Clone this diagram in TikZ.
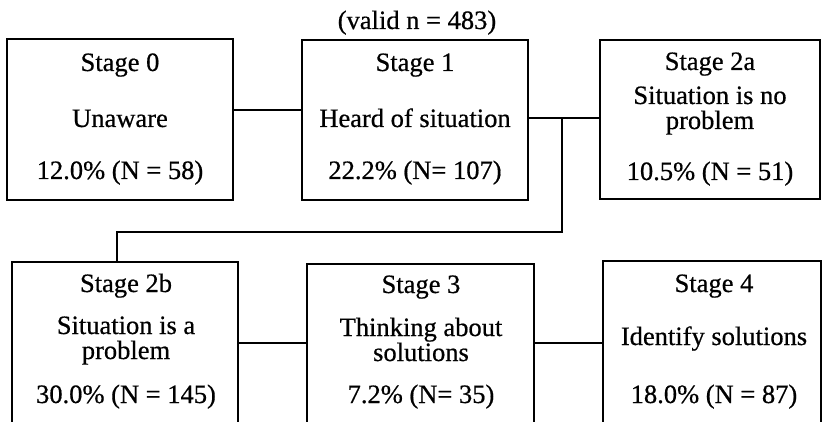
\documentclass[tikz,border=0pt]{standalone}
\usepackage{fontspec}
\setmainfont[FakeBold=0.6]{Liberation Serif}
\begin{document}
\begin{tikzpicture}[x=1pt,y=-1pt,
  box/.style={draw, line width=1.7pt, inner sep=0pt, outer sep=0pt},
  lbl/.style={anchor=base, inner sep=0pt, font=\fontsize{26.5}{29}\selectfont},
  two/.style={lbl, align=center, font=\fontsize{26.5}{#1}\selectfont},
  link/.style={line width=1.4pt}]
\useasboundingbox (0,0) rectangle (822,422);
\fill[white] (0,0) rectangle (822,422);
\clip (0,0) rectangle (822,422);
% boxes
\node[box, minimum width=226pt, minimum height=161pt] (b0) at (120,119.5) {};
\node[box, minimum width=226pt, minimum height=160pt] (b1) at (415,120) {};
\node[box, minimum width=220pt, minimum height=159pt] (b2a) at (710,119.5) {};
\node[box, minimum width=226pt, minimum height=168pt] (b2b) at (125,346) {};
\node[box, minimum width=227pt, minimum height=166pt] (b3) at (420.5,347) {};
\node[box, minimum width=218pt, minimum height=169pt] (b4) at (712,345.5) {};
% title
\node[lbl] (title) at (417,29) {(valid n = 483)};
% texts
\node[lbl] (t0a) at (120,71) {Stage 0};
\node[lbl] (t0b) at (120,127) {Unaware};
\node[lbl] (t0c) at (120,179) {12.0\% (N = 58)};
\node[lbl] (t1a) at (415,71) {Stage 1};
\node[lbl] (t1b) at (415,127) {Heard of situation};
\node[lbl] (t1c) at (415,179) {22.2\% (N= 107)};
\node[lbl] (t2aa) at (710,70) {Stage 2a};
\node[two=25] (t2ab) at (710,129) {Situation is no\\problem};
\node[lbl] (t2ad) at (710,180) {10.5\% (N = 51)};
\node[lbl] (t2ba) at (126,292) {Stage 2b};
\node[two=25] (t2bb) at (126,359) {Situation is a\\problem};
\node[lbl] (t2bd) at (126,403) {30.0\% (N = 145)};
\node[lbl] (t3a) at (421,293) {Stage 3};
\node[two=25] (t3b) at (421,361) {Thinking about\\solutions};
\node[lbl] (t3d) at (421,403) {7.2\% (N= 35)};
\node[lbl] (t4a) at (714,292) {Stage 4};
\node[lbl] (t4b) at (714,345) {Identify solutions};
\node[lbl] (t4c) at (714,403) {18.0\% (N = 87)};
% connectors
\coordinate (c01) at (0,110);
\coordinate (j) at (562,118);
\coordinate (k) at (117,232);
\coordinate (c23) at (0,343);
\draw[link] (b0.east |- c01) -- (b1.west |- c01);
\draw[link] (b1.east |- j) -- (b2a.west |- j);
\draw[link] (j) |- (k) -- (k |- b2b.north);
\draw[link] (b2b.east |- c23) -- (b3.west |- c23);
\draw[link] (b3.east |- c23) -- (b4.west |- c23);
\end{tikzpicture}
\end{document}
